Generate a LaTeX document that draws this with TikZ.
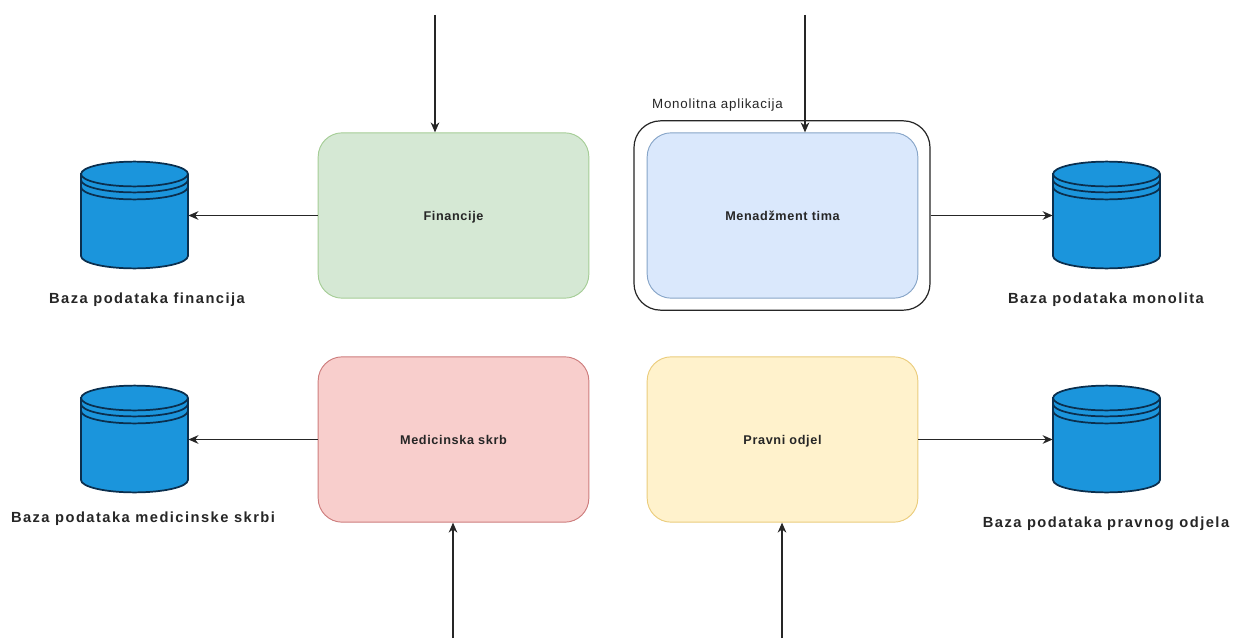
\documentclass[tikz,border=0pt]{standalone}
\usepackage{fontspec}
\setmainfont{Liberation Sans}
\usetikzlibrary{arrows.meta}
\definecolor{dbfill}{HTML}{1B95DC}
\definecolor{dbline}{HTML}{0B2F4E}
\tikzset{
  x=0.75pt,y=-0.75pt,
  every node/.style={font=\fontsize{9.5}{11}\selectfont\bfseries\addfontfeature{LetterSpace=5},text=black!85},
  box/.style={line width=0.7pt,rounded corners=18pt,minimum width=203pt,minimum height=124pt,inner sep=0pt,text height=8pt,text depth=1pt},
  outer/.style={draw=black!85,line width=0.9pt,rounded corners=20pt,fill=white,minimum width=222pt,minimum height=142pt,inner sep=0pt},
  dbbox/.style={minimum width=80.5pt,minimum height=79.5pt,inner sep=0pt},
  conn/.style={draw=black!85,line width=0.8pt,-{Stealth[length=7.5pt,width=6.5pt]}},
  dblabel/.style={font=\fontsize{11}{13}\selectfont\bfseries\addfontfeature{LetterSpace=10}},
  cyl/.style={draw=dbline,line width=1.3pt,fill=dbfill}
}
\newcommand{\dbshape}[2]{%
  \draw[cyl] (#1-53.5,#2-41) -- (#1-53.5,#2+41)
    arc[x radius=40.1pt,y radius=9.3pt,start angle=180,end angle=360]
    -- (#1+53.5,#2-41)
    arc[x radius=40.1pt,y radius=9.3pt,start angle=0,end angle=180] -- cycle;
  \draw[cyl,fill=none] (#1-53.5,#2-41)
    arc[x radius=40.1pt,y radius=9.3pt,start angle=180,end angle=360];
  \draw[cyl,fill=none] (#1-53.5,#2-35)
    arc[x radius=40.1pt,y radius=9.3pt,start angle=180,end angle=360];
  \draw[cyl,fill=none] (#1-53.5,#2-28)
    arc[x radius=40.1pt,y radius=9.3pt,start angle=180,end angle=360];
}
\begin{document}
\begin{tikzpicture}
\useasboundingbox (0,0) rectangle (1244,642);
\fill[white] (0,0) rectangle (1244,642);
\node[box,fill={rgb,255:red,213;green,232;blue,212},draw={rgb,255:red,165;green,205;blue,150}] (fin) at (453.5,215.5) {Financije};
\node[outer] (mono) at (782,215.5) {};
\node[box,fill={rgb,255:red,218;green,232;blue,252},draw={rgb,255:red,135;green,165;blue,200}] (men) at (782.5,215.5) {Menadžment tima};
\node[box,fill={rgb,255:red,248;green,206;blue,204},draw={rgb,255:red,205;green,125;blue,125}] (med) at (453.5,439.5) {Medicinska skrb};
\node[box,fill={rgb,255:red,255;green,242;blue,204},draw={rgb,255:red,235;green,205;blue,125}] (prav) at (782.5,439.5) {Pravni odjel};
\node[font=\fontsize{10}{12}\selectfont\addfontfeature{LetterSpace=6}] (lbl) at (717.5,105) {Monolitna aplikacija};
\dbshape{134.5}{215}
\dbshape{1106.5}{215}
\dbshape{134.5}{439}
\dbshape{1106.5}{439}
\node[dbbox] (dba) at (134.5,215.5) {};
\node[dbbox] (dbb) at (1106.5,215.5) {};
\node[dbbox] (dbc) at (134.5,439.5) {};
\node[dbbox] (dbd) at (1106.5,439.5) {};
\node[dblabel] (la) at (147,300) {Baza podataka financija};
\node[dblabel] (lb) at (1106,300) {Baza podataka monolita};
\node[dblabel] (lc) at (143,519) {Baza podataka medicinske skrbi};
\node[dblabel] (ld) at (1106,524) {Baza podataka pravnog odjela};
\coordinate (t1) at (435,15);
\coordinate (t2) at (805,15);
\coordinate (b1) at (453,638);
\coordinate (b2) at (782,638);
\draw[conn] (t1) -- (t1 |- fin.north);
\draw[conn] (t2) -- (t2 |- men.north);
\draw[conn] (b1) -- (b1 |- med.south);
\draw[conn] (b2) -- (b2 |- prav.south);
\draw[conn] (fin.west) -- (dba.east);
\draw[conn] (med.west) -- (dbc.east);
\draw[conn] (mono.east) -- (dbb.west);
\draw[conn] (prav.east) -- (dbd.west);
\end{tikzpicture}
\end{document}
